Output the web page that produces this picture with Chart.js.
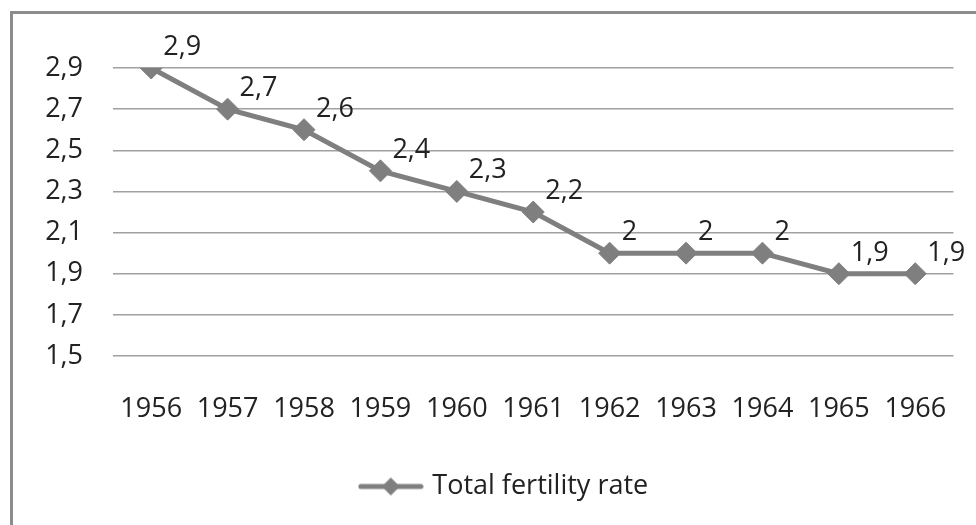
<!DOCTYPE html>
<html>
<head>
<meta charset="utf-8">
<script src="https://cdn.jsdelivr.net/npm/chart.js@4/dist/chart.umd.min.js"></script>
<style>
    html, body { margin: 0; padding: 0; background: #fff; overflow: hidden; }
    #frame {
        position: absolute; left: 10px; top: 11px;
        width: 1200px; height: 800px;
        border: 3px solid #8c8c8c;
    }
    #grafico { position: absolute; left: 0; top: 0; }
</style>
</head>
<body>
<div id="frame"></div>
<canvas id="grafico" width="976" height="525"></canvas>
<script>
// --- Dados ---
const anos = ['1956', '1957', '1958', '1959', '1960', '1961', '1962', '1963', '1964', '1965', '1966'];
const taxaFecundidade = [2.9, 2.7, 2.6, 2.4, 2.3, 2.2, 2, 2, 2, 1.9, 1.9];
const nomeSerie = 'Total fertility rate';
const eixoY = { min: 1.5, max: 2.9, passo: 0.2 };

const corLinha = '#7f7f7f';
const corTexto = '#222222';
const fonte = { family: '"Open Sans", sans-serif', size: 27 };

const virgula = (v) => String(v).replace('.', ',');

// ícone da legenda: linha com losango
const iconeLegenda = (() => {
    const c = document.createElement('canvas');
    c.width = 66; c.height = 24;
    const g = c.getContext('2d');
    g.strokeStyle = corLinha; g.lineWidth = 5; g.lineCap = 'round';
    g.beginPath(); g.moveTo(3, 12); g.lineTo(63, 12); g.stroke();
    g.fillStyle = corLinha;
    g.beginPath(); g.moveTo(33, 3); g.lineTo(42, 12); g.lineTo(33, 21); g.lineTo(24, 12); g.closePath(); g.fill();
    return c;
})();

// rótulos de valor ao lado de cada ponto
const rotulosPontos = {
    id: 'rotulosPontos',
    afterLayout(chart) {
        // legenda um pouco à direita, como no original
        chart.legend.left += 27;
        chart.legend.right += 27;
    },
    afterDatasetsDraw(chart) {
        const { ctx } = chart;
        const meta = chart.getDatasetMeta(0);
        ctx.save();
        ctx.font = `${fonte.size}px ${fonte.family}`;
        ctx.fillStyle = corTexto;
        ctx.textAlign = 'left';
        ctx.textBaseline = 'alphabetic';
        meta.data.forEach((pt, i) => {
            ctx.fillText(virgula(taxaFecundidade[i]), pt.x + 12, pt.y - 13);
        });
        ctx.restore();
    }
};

new Chart(document.getElementById('grafico'), {
    type: 'line',
    data: {
        labels: anos,
        datasets: [{
            label: nomeSerie,
            data: taxaFecundidade,
            borderColor: corLinha,
            backgroundColor: corLinha,
            borderWidth: 5,
            pointStyle: 'rectRot',
            pointRadius: 11,
            pointHoverRadius: 11,
            pointBorderWidth: 1,
            tension: 0
        }]
    },
    options: {
        responsive: false,
        animation: false,
        layout: { padding: { top: 68, right: 19, bottom: 15, left: 0 } },
        plugins: {
            tooltip: { enabled: false },
            legend: {
                position: 'bottom',
                labels: {
                    font: fonte,
                    color: corTexto,
                    usePointStyle: true,
                    pointStyleWidth: 56,
                    generateLabels: () => [{
                        text: nomeSerie,
                        pointStyle: iconeLegenda,
                        fillStyle: corLinha,
                        strokeStyle: corLinha,
                        lineWidth: 0,
                        fontColor: corTexto,
                        hidden: false,
                        datasetIndex: 0
                    }]
                }
            }
        },
        scales: {
            x: {
                offset: true,
                grid: { display: false },
                border: { display: false },
                ticks: { font: fonte, color: corTexto, padding: 29, maxRotation: 0, autoSkip: false },
                afterFit: (s) => { s.height = 107; }
            },
            y: {
                min: eixoY.min,
                max: eixoY.max,
                grid: { color: '#a0a0a0', lineWidth: 1.5, drawTicks: false },
                border: { display: false },
                ticks: {
                    stepSize: eixoY.passo,
                    font: fonte,
                    color: corTexto,
                    padding: 30,
                    callback: (v) => v.toFixed(1).replace('.', ',')
                },
                afterFit: (s) => { s.width = 113; }
            }
        }
    },
    plugins: [rotulosPontos]
});
</script>
</body>
</html>
